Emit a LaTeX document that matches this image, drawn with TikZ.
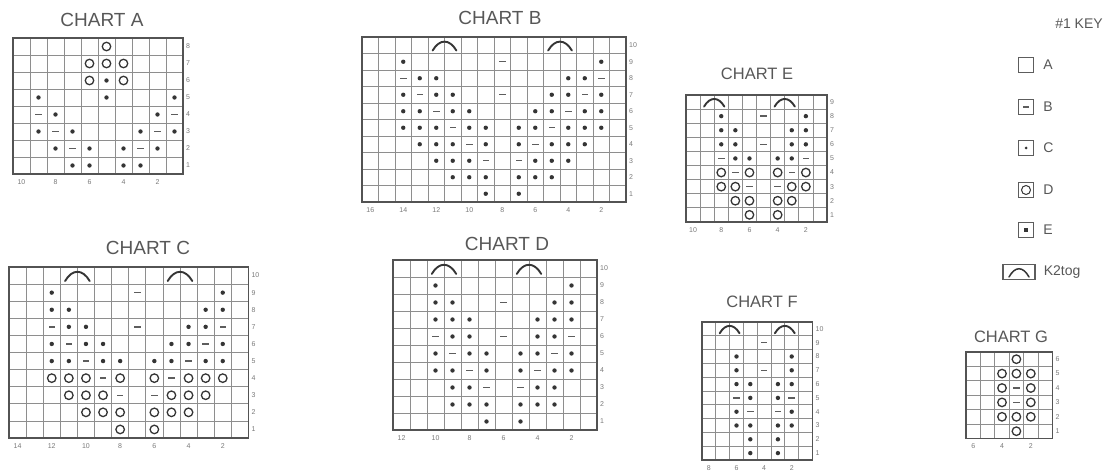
\documentclass[tikz,border=0pt]{standalone}
\usepackage{fontspec}
\setmainfont{Liberation Sans}
\usetikzlibrary{positioning}
\definecolor{kink}{HTML}{353535}
\definecolor{kline}{HTML}{8E8E8E}
\definecolor{ktext}{HTML}{575757}
\tikzset{
    kgrid/.style={draw=kline, line width=0.8pt},
    kframe/.style={draw=kink!85, line width=1.6pt},
    kdot/.style={circle, fill=kink, inner sep=0, minimum size=4.4pt},
    kring/.style={circle, draw=kink, line width=1.3pt, inner sep=0, minimum size=8.5pt},
    kdash/.style={rectangle, fill=kink!80, inner sep=0, minimum width=6.5pt, minimum height=1.4pt},
    karch/.style={draw=kink, line width=1.9pt, line cap=round},
    ktitle/.style={text=ktext, inner sep=0, font=\fontsize{19}{21}\selectfont},
    ktitlesm/.style={text=ktext, inner sep=0, font=\fontsize{16.5}{18}\selectfont},
    krow/.style={text=ktext!80, inner sep=0, anchor=west, font=\fontsize{7}{8}\selectfont},
    kcol/.style={text=ktext!80, inner sep=0, font=\fontsize{7}{8}\selectfont},
    kkey/.style={draw=kink!80, line width=1.1pt, minimum size=15pt, inner sep=0},
    kkeytext/.style={text=ktext, inner sep=0, font=\fontsize{14}{16}\selectfont}
}

% rejilla: nombre, x, y, columnas, filas, celda
\newcommand{\kchart}[6]{%
    \pgfmathtruncatemacro{\kcm}{#4-1}
    \pgfmathtruncatemacro{\krm}{#5-1}
    \begin{scope}[shift={(#2,#3)}]
        \foreach \i in {1,...,\kcm}
            \draw[kgrid] ({\i*#6},0) -- ({\i*#6},{#5*#6});
        \foreach \j in {1,...,\krm}
            \draw[kgrid] (0,{\j*#6}) -- ({#4*#6},{\j*#6});
        \draw[kframe] (0,0) rectangle ({#4*#6},{#5*#6});
        \foreach \r in {1,...,#5}
            \node[krow] (#1-row\r) at ({#4*#6+3},{(#5-\r+0.5)*#6}) {\r};
        \foreach \c in {0,2,...,\kcm}{
            \pgfmathtruncatemacro{\kn}{#4-\c}
            \node[kcol] (#1-col\kn) at ({(\c+0.5)*#6},{#5*#6+8}) {\kn};
        }
    \end{scope}
}
\newcommand{\kuse}[4]{\def\kx{#1}\def\ky{#2}\def\kr{#3}\def\kc{#4}}
% simbolos: estilo, prefijo, lista columna/fila
\newcommand{\kput}[3]{%
    \foreach \i/\r in {#3}
        \node[#1] (#2-\i-\r) at ({\kx+(\i+0.5)*\kc},{\ky+(\kr-\r+0.5)*\kc}) {};
}
\newcommand{\karch}[1]{%
    \draw[karch] ({\kx+(#1-0.72)*\kc},{\ky+0.82*\kc})
        .. controls ({\kx+(#1-0.3)*\kc},{\ky+0.1*\kc}) and ({\kx+(#1+0.3)*\kc},{\ky+0.1*\kc})
        .. ({\kx+(#1+0.72)*\kc},{\ky+0.82*\kc});
}

\begin{document}
\begin{tikzpicture}[x=1pt, y=-1pt]

    \useasboundingbox (0,0) rectangle (1113,473);

    % Titulos
    \node[ktitle]   (titA) at (102,20)  {CHART A};
    \node[ktitle]   (titB) at (500,18)  {CHART B};
    \node[ktitlesm] (titE) at (757,74)  {CHART E};
    \node[ktitle]   (titC) at (148,248) {CHART C};
    \node[ktitle]   (titD) at (507,244) {CHART D};
    \node[ktitlesm] (titF) at (762,302) {CHART F};
    \node[ktitlesm] (titG) at (1011,337) {CHART G};

    % Chart A
    \kchart{A}{13}{38}{10}{8}{17}
    \kuse{13}{38}{8}{17}
    \kput{kring}{A}{5/8,4/7,5/7,6/7,4/6,6/6}
    \kput{kdot}{A}{5/6,1/5,5/5,9/5,2/4,8/4,1/3,3/3,7/3,9/3,2/2,4/2,6/2,8/2,3/1,4/1,6/1,7/1}
    \kput{kdash}{A}{1/4,9/4,2/3,8/3,3/2,7/2}

    % Chart B
    \kchart{B}{362}{37}{16}{10}{16.5}
    \kuse{362}{37}{10}{16.5}
    \karch{5} \karch{12}
    \kput{kdot}{B}{2/9,14/9,3/8,4/8,12/8,13/8,2/7,4/7,5/7,11/7,12/7,14/7,
        2/6,3/6,5/6,6/6,10/6,11/6,13/6,14/6,2/5,3/5,4/5,6/5,7/5,9/5,10/5,12/5,13/5,14/5,
        3/4,4/4,5/4,7/4,9/4,11/4,12/4,13/4,4/3,5/3,6/3,10/3,11/3,12/3,
        5/2,6/2,7/2,9/2,10/2,11/2,7/1,9/1}
    \kput{kdash}{B}{8/9,2/8,14/8,3/7,8/7,13/7,4/6,12/6,5/5,11/5,6/4,10/4,7/3,9/3}

    % Chart C
    \kchart{C}{9}{267}{14}{10}{17.1}
    \kuse{9}{267}{10}{17.1}
    \karch{4} \karch{10}
    \kput{kdot}{C}{2/9,12/9,2/8,3/8,11/8,12/8,3/7,4/7,10/7,11/7,
        2/6,4/6,5/6,9/6,10/6,12/6,2/5,3/5,5/5,6/5,8/5,9/5,11/5,12/5}
    \kput{kdash}{C}{7/9,2/7,7/7,12/7,3/6,11/6,4/5,10/5,5/4,9/4,6/3,8/3}
    \kput{kring}{C}{2/4,3/4,4/4,6/4,8/4,10/4,11/4,12/4,3/3,4/3,5/3,9/3,10/3,11/3,
        4/2,5/2,6/2,8/2,9/2,10/2,6/1,8/1}

    % Chart D
    \kchart{D}{393}{260}{12}{10}{17}
    \kuse{393}{260}{10}{17}
    \karch{3} \karch{8}
    \kput{kdot}{D}{2/9,10/9,2/8,3/8,9/8,10/8,2/7,3/7,4/7,8/7,9/7,10/7,3/6,4/6,8/6,9/6,
        2/5,4/5,5/5,7/5,8/5,10/5,2/4,3/4,5/4,7/4,9/4,10/4,3/3,4/3,8/3,9/3,
        3/2,4/2,5/2,7/2,8/2,9/2,5/1,7/1}
    \kput{kdash}{D}{6/8,2/6,6/6,10/6,3/5,9/5,4/4,8/4,5/3,7/3}

    % Chart E
    \kchart{E}{686}{95}{10}{9}{14.1}
    \kuse{686}{95}{9}{14.1}
    \karch{2} \karch{7}
    \kput{kdot}{E}{2/8,8/8,2/7,3/7,7/7,8/7,2/6,3/6,7/6,8/6,3/5,4/5,6/5,7/5}
    \kput{kdash}{E}{5/8,5/6,2/5,8/5,3/4,7/4,4/3,6/3}
    \kput{kring}{E}{2/4,4/4,6/4,8/4,2/3,3/3,7/3,8/3,3/2,4/2,6/2,7/2,4/1,6/1}

    % Chart F
    \kchart{F}{702}{322}{8}{10}{13.8}
    \kuse{702}{322}{10}{13.8}
    \karch{2} \karch{6}
    \kput{kdot}{F}{2/8,6/8,2/7,6/7,2/6,3/6,5/6,6/6,3/5,5/5,2/4,6/4,2/3,3/3,5/3,6/3,3/2,5/2,3/1,5/1}
    \kput{kdash}{F}{4/9,4/7,2/5,6/5,3/4,5/4}

    % Chart G
    \kchart{G}{966}{352}{6}{6}{14.4}
    \kuse{966}{352}{6}{14.4}
    \kput{kring}{G}{3/6,2/5,3/5,4/5,2/4,4/4,2/3,4/3,2/2,3/2,4/2,3/1}
    \kput{kdash}{G}{3/4,3/3}

    % Leyenda
    \node[kkeytext] (keytit) at (1079,24) {\#1 KEY};
    \node[kkey] (keyA) at (1026,65)  {};
    \node[kkey] (keyB) at (1026,107) {};
    \node[kkey] (keyC) at (1026,148) {};
    \node[kkey] (keyD) at (1026,190) {};
    \node[kkey] (keyE) at (1026,230) {};
    \node[kkey, minimum width=32pt] (keyK) at (1019,272) {};
    \node[kdash] (keyBs) at (keyB) {};
    \node[kdot, minimum size=3pt] (keyCs) at (keyC) {};
    \node[kring, minimum width=6pt, minimum height=9pt, line width=1pt] (keyDs) at (keyD) {};
    \node[kdot, rectangle, minimum size=4pt] (keyEs) at (keyE) {};
    \draw[karch, line width=1.5pt] (1009,277) .. controls (1015,266) and (1023,266) .. (1029,277);
    \node[kkeytext, right=9pt of keyA] (keyAt) {A};
    \node[kkeytext, right=9pt of keyB] (keyBt) {B};
    \node[kkeytext, right=9pt of keyC] (keyCt) {C};
    \node[kkeytext, right=9pt of keyD] (keyDt) {D};
    \node[kkeytext, right=9pt of keyE] (keyEt) {E};
    \node[kkeytext, right=8pt of keyK] (keyKt) {K2tog};

\end{tikzpicture}
\end{document}
